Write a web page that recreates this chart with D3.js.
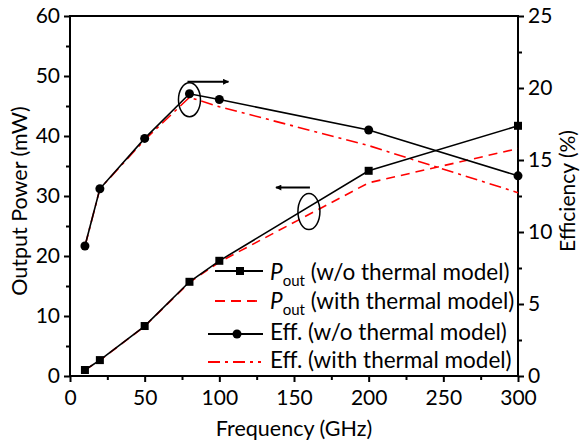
<!DOCTYPE html>
<html>
<head>
<meta charset="utf-8">
<script src="https://cdn.jsdelivr.net/npm/d3@7"></script>
<style>
  html, body { margin: 0; padding: 0; background: #fff; }
  svg { display: block; }
  text { font-family: Lato, "Open Sans", sans-serif; fill: #000; }
</style>
</head>
<body>
<svg id="chart" width="581" height="445"></svg>
<script>
// ---------- data ----------
const freq = [10, 20, 50, 80, 100, 200, 300];
const poutNoThermal = [1.0, 2.65, 8.33, 15.7, 19.2, 34.2, 41.7];
const poutThermal = [1.0, 2.6, 8.3, 15.6, 19.0, 32.2, 37.9];
const effNoThermal = [9.03, 13.0, 16.5, 19.6, 19.2, 17.08, 13.9];
const effThermal = [9.0, 13.0, 16.4, 19.35, 18.7, 16.0, 12.73];

const xTicks = [0, 50, 100, 150, 200, 250, 300];
const xMinor = [25, 75, 125, 175, 225, 275];
const yLTicks = [0, 10, 20, 30, 40, 50, 60];
const yLMinor = [5, 15, 25, 35, 45, 55];
const yRTicks = [0, 5, 10, 15, 20, 25];
const yRMinor = [2.5, 7.5, 12.5, 17.5, 22.5];

const xTitle = "Frequency (GHz)";
const yLTitle = "Output Power (mW)";
const yRTitle = "Efficiency (%)";
const legendLabels = ["(w/o thermal model)", "(with thermal model)", "Eff. (w/o thermal model)", "Eff. (with thermal model)"];

// ---------- layout ----------
const L = 70, R = 518, T = 16, B = 376;
const svg = d3.select("#chart");

const x = d3.scaleLinear().domain([0, 300]).range([L, R]);
const yL = d3.scaleLinear().domain([0, 60]).range([B, T]);
const yR = d3.scaleLinear().domain([0, 25]).range([B, T]);

const FS = 21;
const LFS = 22.5;

// ---------- axes ----------
function styleAxis(g) {
  g.select(".domain").remove();
  g.selectAll(".tick line").attr("stroke", "#000").attr("stroke-width", 2);
  g.selectAll(".tick text").style("font-size", FS + "px").attr("fill", "#000");
}

// bottom
svg.append("g").attr("transform", `translate(0,${B})`)
  .call(d3.axisBottom(x).tickValues(xTicks).tickSize(6).tickPadding(8).tickFormat(d3.format("d")))
  .call(styleAxis);
svg.append("g").attr("transform", `translate(0,${B})`)
  .call(d3.axisBottom(x).tickValues(xMinor).tickSize(4).tickFormat(""))
  .call(styleAxis);
// left
svg.append("g").attr("transform", `translate(${L},0)`)
  .call(d3.axisLeft(yL).tickValues(yLTicks).tickSize(6).tickPadding(4).tickFormat(d3.format("d")))
  .call(styleAxis);
svg.append("g").attr("transform", `translate(${L},0)`)
  .call(d3.axisLeft(yL).tickValues(yLMinor).tickSize(4).tickFormat(""))
  .call(styleAxis);
// right
svg.append("g").attr("transform", `translate(${R},0)`)
  .call(d3.axisRight(yR).tickValues(yRTicks).tickSize(6).tickPadding(4).tickFormat(d3.format("d")))
  .call(styleAxis);
svg.append("g").attr("transform", `translate(${R},0)`)
  .call(d3.axisRight(yR).tickValues(yRMinor).tickSize(4).tickFormat(""))
  .call(styleAxis);

// frame
svg.append("rect").attr("x", L).attr("y", T).attr("width", R - L).attr("height", B - T)
  .attr("fill", "none").attr("stroke", "#000").attr("stroke-width", 2);

// titles
svg.append("text").attr("x", (L + R) / 2).attr("y", 436).attr("text-anchor", "middle")
  .style("font-size", "21.5px").text(xTitle);
svg.append("text").attr("transform", `translate(27,${(T + B) / 2 + 5}) rotate(-90)`).attr("text-anchor", "middle")
  .style("font-size", "21.5px").text(yLTitle);
svg.append("text").attr("transform", `translate(575,${(T + B) / 2 - 5}) rotate(-90)`).attr("text-anchor", "middle")
  .style("font-size", "21px").text(yRTitle);

// ---------- series ----------
const lineL = d3.line().x((d, i) => x(freq[i])).y(d => yL(d));
const lineR = d3.line().x((d, i) => x(freq[i])).y(d => yR(d));

const plot = svg.append("g");

plot.append("path").datum(poutThermal).attr("d", lineL)
  .attr("fill", "none").attr("stroke", "#ff0000").attr("stroke-width", 1.6).attr("stroke-dasharray", "9,6");
plot.append("path").datum(effThermal).attr("d", lineR)
  .attr("fill", "none").attr("stroke", "#ff0000").attr("stroke-width", 1.6).attr("stroke-dasharray", "12,5,3,5");

plot.append("path").datum(poutNoThermal).attr("d", lineL)
  .attr("fill", "none").attr("stroke", "#000").attr("stroke-width", 1.6);
plot.append("path").datum(effNoThermal).attr("d", lineR)
  .attr("fill", "none").attr("stroke", "#000").attr("stroke-width", 1.6);

plot.selectAll(".sq").data(poutNoThermal).enter().append("rect")
  .attr("x", (d, i) => x(freq[i]) - 4).attr("y", d => yL(d) - 4)
  .attr("width", 8).attr("height", 8).attr("fill", "#000");
plot.selectAll(".ci").data(effNoThermal).enter().append("circle")
  .attr("cx", (d, i) => x(freq[i])).attr("cy", d => yR(d)).attr("r", 4.5).attr("fill", "#000");

// ---------- annotations ----------
const defs = svg.append("defs");
defs.append("marker").attr("id", "ah").attr("viewBox", "0 0 10 10").attr("refX", 9).attr("refY", 5)
  .attr("markerWidth", 10).attr("markerHeight", 6).attr("markerUnits", "userSpaceOnUse").attr("orient", "auto")
  .append("path").attr("d", "M0,0 L10,5 L0,10 Z").attr("fill", "#000");

// efficiency -> right axis
svg.append("ellipse").attr("cx", x(80)).attr("cy", yR(19.6) + 6).attr("rx", 11).attr("ry", 17)
  .attr("fill", "none").attr("stroke", "#000").attr("stroke-width", 1.5);
svg.append("line").attr("x1", x(80) - 2).attr("y1", yR(19.6) - 12).attr("x2", x(80) + 39).attr("y2", yR(19.6) - 12)
  .attr("stroke", "#000").attr("stroke-width", 2).attr("marker-end", "url(#ah)");

// power -> left axis
svg.append("ellipse").attr("cx", x(160)).attr("cy", yL(27.4)).attr("rx", 11).attr("ry", 18)
  .attr("fill", "none").attr("stroke", "#000").attr("stroke-width", 1.5);
svg.append("line").attr("x1", x(160) + 1).attr("y1", yL(27.4) - 24).attr("x2", x(160) - 33).attr("y2", yL(27.4) - 24)
  .attr("stroke", "#000").attr("stroke-width", 2).attr("marker-end", "url(#ah)");

// ---------- legend ----------
const lg = svg.append("g");
const rows = [
  { ly: 271, ty: 280, x1: 215, x2: 263, color: "#000", dash: null, marker: "sq", sub: true },
  { ly: 301, ty: 308.5, x1: 215, x2: 257, color: "#ff0000", dash: "10,6", marker: null, sub: true },
  { ly: 334, ty: 340, x1: 208, x2: 263, color: "#000", dash: null, marker: "ci", sub: false },
  { ly: 362, ty: 368, x1: 208, x2: 261, color: "#ff0000", dash: "12,5,3,5", marker: null, sub: false }
];
rows.forEach((r, i) => {
  lg.append("line").attr("x1", r.x1).attr("x2", r.x2).attr("y1", r.ly).attr("y2", r.ly)
    .attr("stroke", r.color).attr("stroke-width", 1.8).attr("stroke-dasharray", r.dash);
  if (r.marker === "sq") lg.append("rect").attr("x", 236).attr("y", r.ly - 4).attr("width", 8).attr("height", 8).attr("fill", "#000");
  if (r.marker === "ci") lg.append("circle").attr("cx", 237).attr("cy", r.ly).attr("r", 4.5).attr("fill", "#000");
  const t = lg.append("text").attr("x", 270).attr("y", r.ty).style("font-size", LFS + "px");
  if (r.sub) {
    t.append("tspan").style("font-style", "italic").text("P");
    t.append("tspan").attr("dy", 6).style("font-size", "15px").text("out");
    t.append("tspan").attr("dy", -6).text(" " + legendLabels[i]);
  } else {
    t.text(legendLabels[i]);
  }
});
</script>
</body>
</html>
